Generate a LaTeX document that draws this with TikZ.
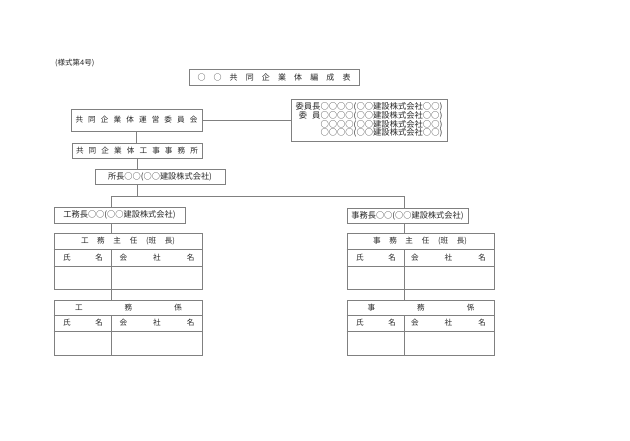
\documentclass[tikz,border=0pt]{standalone}
\usepackage{fontspec}
\setmainfont{Noto Sans CJK JP}
\definecolor{lc}{gray}{0.5}
\definecolor{tc}{gray}{0.15}
\newcommand\fsn{\fontsize{7.6}{9}\selectfont}
\newcommand\fsl{\fontsize{8.2}{9}\selectfont}
\begin{document}
\begin{tikzpicture}[x=1pt,y=-1pt,
  box/.style={draw=lc, line width=0.7pt, fill=white, inner sep=0pt, text=tc, font=\fsn},
  ln/.style={draw=lc, line width=0.7pt},
  txt/.style={inner sep=0pt, text=tc, font=\fsn}]
\useasboundingbox[fill=white] (0,0) rectangle (630,440);

\node[txt, font=\fontsize{7.5}{8}\selectfont, anchor=west] (form) at (55,63) {(様式第4号)};

\node[box, minimum width=170pt, minimum height=16pt, font=\fontsize{8}{9}\selectfont] (title) at (274,77)
  {\makebox[153pt][s]{○\hfill ○\hfill 共\hfill 同\hfill 企\hfill 業\hfill 体\hfill 編\hfill 成\hfill 表}};

\node[box, minimum width=131pt, minimum height=22pt] (comm) at (136.5,120)
  {\makebox[122pt][s]{共\hfill 同\hfill 企\hfill 業\hfill 体\hfill 運\hfill 営\hfill 委\hfill 員\hfill 会}};

\node[box, minimum width=156pt, minimum height=42pt, align=right, font=\fontsize{8.3}{8.7}\selectfont] (member) at (369,120)
  {委員長○○○○(○○建設株式会社○○)\\委\hspace{0.6em}員○○○○(○○建設株式会社○○)\\○○○○(○○建設株式会社○○)\\○○○○(○○建設株式会社○○)};

\node[box, minimum width=130pt, minimum height=15pt] (office) at (137,151)
  {\makebox[122pt][s]{共\hfill 同\hfill 企\hfill 業\hfill 体\hfill 工\hfill 事\hfill 事\hfill 務\hfill 所}};

\node[box, minimum width=130pt, minimum height=15pt, font=\fsl] (shocho) at (160,176.5) {所長○○(○○建設株式会社)};

\node[box, minimum width=131pt, minimum height=16pt, font=\fsl] (kocho) at (119.5,215) {工務長○○(○○建設株式会社)};
\node[box, minimum width=121pt, minimum height=15pt, font=\fsl] (jimucho) at (407.5,215.5) {事務長○○(○○建設株式会社)};

% tables
\node[box, minimum width=148pt, minimum height=56pt] (t1) at (128,261) {};
\node[box, minimum width=148pt, minimum height=55pt] (t2) at (128,327.5) {};
\node[box, minimum width=147pt, minimum height=56pt] (t3) at (420.5,261) {};
\node[box, minimum width=147pt, minimum height=55pt] (t4) at (420.5,327.5) {};

\coordinate (jc) at (137,196);
\coordinate (jl) at (111,196);
\coordinate (jr) at (404,196);

% connectors
\draw[ln] (comm.east) -- (member.west);
\draw[ln] (comm.south) -- (comm.south |- office.north);
\draw[ln] (office.south) -- (office.south |- shocho.north);
\draw[ln] (office.south |- shocho.south) -- (jc);
\draw[ln] (jl |- kocho.north) -- (jl) -- (jr) -- (jr |- jimucho.north);
\draw[ln] (jl |- kocho.south) -- (jl |- t1.north);
\draw[ln] (jl |- t1.south) -- (jl |- t2.north);
\draw[ln] (jr |- jimucho.south) -- (jr |- t3.north);
\draw[ln] (jr |- t3.south) -- (jr |- t4.north);

% inner table lines
\draw[ln] (t1.west |- 0,249) -- (t1.east |- 0,249);
\draw[ln] (t1.west |- 0,266) -- (t1.east |- 0,266);
\draw[ln] (jl |- 0,249) -- (jl |- t1.south);
\draw[ln] (t2.west |- 0,315) -- (t2.east |- 0,315);
\draw[ln] (t2.west |- 0,331) -- (t2.east |- 0,331);
\draw[ln] (jl |- 0,315) -- (jl |- t2.south);
\draw[ln] (t3.west |- 0,249) -- (t3.east |- 0,249);
\draw[ln] (t3.west |- 0,266) -- (t3.east |- 0,266);
\draw[ln] (jr |- 0,249) -- (jr |- t3.south);
\draw[ln] (t4.west |- 0,315) -- (t4.east |- 0,315);
\draw[ln] (t4.west |- 0,331) -- (t4.east |- 0,331);
\draw[ln] (jr |- 0,315) -- (jr |- t4.south);

% table texts
\node[txt] (h1) at (128,241) {\makebox[94pt][s]{工\hfill 務\hfill 主\hfill 任\hfill (班\hfill 長)}};
\node[txt] (s1a) at (83,257.5) {\makebox[40pt][s]{氏\hfill 名}};
\node[txt] (s1b) at (157,257.5) {\makebox[75pt][s]{会\hfill 社\hfill 名}};
\node[txt] (h2) at (128.5,307.5) {\makebox[107pt][s]{工\hfill 務\hfill 係}};
\node[txt] (s2a) at (83,323) {\makebox[40pt][s]{氏\hfill 名}};
\node[txt] (s2b) at (157,323) {\makebox[75pt][s]{会\hfill 社\hfill 名}};

\node[txt] (h3) at (420,241) {\makebox[94pt][s]{事\hfill 務\hfill 主\hfill 任\hfill (班\hfill 長)}};
\node[txt] (s3a) at (376,257.5) {\makebox[40pt][s]{氏\hfill 名}};
\node[txt] (s3b) at (448.5,257.5) {\makebox[75pt][s]{会\hfill 社\hfill 名}};
\node[txt] (h4) at (421,307.5) {\makebox[107pt][s]{事\hfill 務\hfill 係}};
\node[txt] (s4a) at (376,323) {\makebox[40pt][s]{氏\hfill 名}};
\node[txt] (s4b) at (448.5,323) {\makebox[75pt][s]{会\hfill 社\hfill 名}};
\end{tikzpicture}
\end{document}
